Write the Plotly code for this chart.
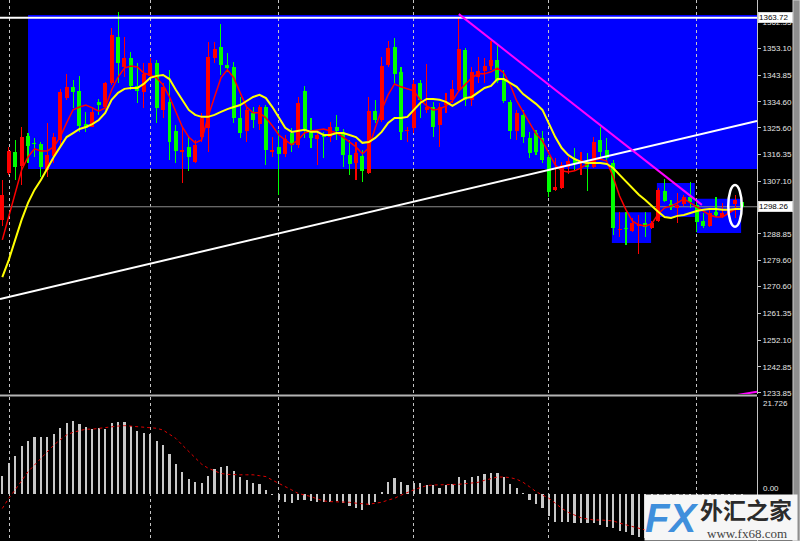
import plotly.graph_objects as go

# ---------------- data ----------------
open_ = [1293.7, 1309.9, 1317.3, 1312.5, 1322.8, 1320.5, 1320.0, 1311.0, 1315.9, 1321.4,
         1335.8, 1339.7, 1338.5, 1326.9, 1326.0, 1334.7, 1332.7, 1341.0, 1357.0, 1346.8,
         1349.7, 1340.1, 1338.1, 1343.6, 1348.2, 1331.8, 1334.7, 1324.6, 1317.3, 1319.1,
         1313.9, 1322.5, 1325.5, 1349.7, 1353.7, 1347.4, 1346.6, 1328.9, 1324.6, 1330.9,
         1326.9, 1332.7, 1317.2, 1318.9, 1316.6, 1323.7, 1319.7, 1338.5, 1324.6, 1321.6,
         1323.5, 1322.5, 1325.8, 1324.3, 1316.2, 1313.3, 1315.9, 1309.9, 1331.6, 1328.3,
         1347.4, 1353.7, 1345.1, 1324.4, 1325.5, 1341.0, 1331.8, 1332.7, 1326.6, 1333.5,
         1335.3, 1338.7, 1352.6, 1335.3, 1343.3, 1345.4, 1347.0, 1349.1, 1342.2, 1334.7,
         1324.6, 1330.1, 1322.0, 1323.7, 1322.0, 1315.4, 1304.1, 1304.7, 1312.1, 1314.7,
         1313.3, 1313.9, 1312.1, 1321.4, 1317.9, 1313.3, 1290.2, 1291.0, 1290.0, 1291.6,
         1292.5, 1290.8, 1293.4, 1303.8, 1299.2, 1297.8, 1299.2, 1301.6, 1298.9, 1293.4,
         1291.6, 1296.6, 1294.6, 1296.0, 1299.2, 1300.0]
high = [1307.5, 1319.1, 1321.4, 1326.0, 1323.8, 1322.1, 1320.8, 1327.4, 1323.7, 1339.0,
        1344.3, 1342.2, 1343.6, 1331.2, 1332.7, 1335.6, 1341.6, 1360.1, 1365.6, 1357.0,
        1352.0, 1348.0, 1348.0, 1349.7, 1349.1, 1341.0, 1345.7, 1326.6, 1326.0, 1322.5,
        1321.4, 1330.6, 1355.5, 1355.5, 1361.6, 1351.4, 1348.5, 1336.2, 1332.4, 1332.9,
        1333.5, 1333.5, 1322.3, 1324.9, 1323.1, 1325.4, 1336.4, 1340.1, 1328.9, 1324.3,
        1324.3, 1327.7, 1330.1, 1325.1, 1321.4, 1320.8, 1317.9, 1336.2, 1335.3, 1350.0,
        1355.8, 1356.6, 1346.8, 1326.0, 1342.2, 1342.2, 1347.7, 1334.7, 1334.1, 1337.6,
        1342.2, 1363.72, 1353.2, 1346.8, 1350.0, 1349.7, 1355.8, 1354.3, 1345.7, 1335.3,
        1331.8, 1331.8, 1324.3, 1324.9, 1324.6, 1316.2, 1315.1, 1313.9, 1315.4, 1318.5,
        1317.4, 1316.8, 1322.5, 1325.8, 1322.0, 1314.5, 1296.6, 1296.6, 1294.3, 1295.4,
        1296.6, 1293.4, 1304.7, 1307.8, 1300.6, 1303.1, 1302.4, 1307.0, 1300.6, 1296.0,
        1297.2, 1301.8, 1299.5, 1299.5, 1302.4, 1300.6]
low = [1291.6, 1309.3, 1307.5, 1305.8, 1313.4, 1315.5, 1308.7, 1308.7, 1313.3, 1319.1,
       1335.3, 1332.4, 1324.3, 1324.3, 1325.8, 1330.1, 1331.8, 1340.5, 1341.0, 1343.3,
       1338.7, 1334.1, 1332.4, 1343.3, 1327.2, 1328.9, 1314.5, 1313.3, 1306.6, 1310.8,
       1313.3, 1320.8, 1317.4, 1348.0, 1343.9, 1345.1, 1327.2, 1322.0, 1320.8, 1325.5,
       1324.9, 1312.7, 1315.6, 1302.4, 1315.6, 1317.4, 1318.5, 1322.0, 1318.5, 1312.7,
       1315.1, 1320.8, 1321.4, 1312.2, 1309.3, 1307.5, 1306.9, 1309.6, 1327.2, 1327.7,
       1346.8, 1341.0, 1321.4, 1320.8, 1323.7, 1328.9, 1330.6, 1322.3, 1319.1, 1330.6,
       1334.1, 1338.1, 1333.2, 1333.2, 1341.0, 1341.0, 1345.7, 1341.0, 1334.1, 1321.6,
       1321.4, 1320.3, 1315.1, 1316.2, 1313.3, 1301.5, 1303.8, 1304.3, 1309.6, 1311.0,
       1309.3, 1303.8, 1311.6, 1315.2, 1313.9, 1288.5, 1287.9, 1285.0, 1289.6, 1281.9,
       1287.9, 1290.5, 1293.1, 1300.0, 1297.2, 1292.7, 1298.5, 1297.7, 1289.6, 1290.8,
       1291.2, 1294.8, 1294.3, 1295.9, 1294.3, 1297.2]
close = [1302.4, 1317.7, 1312.1, 1322.5, 1319.4, 1319.9, 1312.1, 1316.2, 1322.3, 1338.1,
         1339.9, 1338.1, 1326.3, 1325.5, 1331.2, 1333.5, 1341.0, 1357.8, 1348.0, 1349.7,
         1340.1, 1338.5, 1344.3, 1348.0, 1332.4, 1339.7, 1320.8, 1317.7, 1317.9, 1315.4,
         1319.7, 1328.9, 1350.0, 1352.8, 1347.4, 1346.2, 1328.9, 1323.9, 1331.8, 1328.3,
         1332.7, 1317.9, 1317.9, 1316.6, 1321.6, 1319.7, 1334.1, 1324.9, 1322.0, 1323.1,
         1322.5, 1326.0, 1324.6, 1316.2, 1313.1, 1316.8, 1310.8, 1331.6, 1328.3, 1347.0,
         1353.4, 1344.3, 1324.3, 1324.9, 1340.8, 1335.3, 1332.9, 1326.0, 1332.9, 1334.7,
         1339.0, 1352.8, 1335.3, 1345.1, 1345.4, 1347.0, 1349.1, 1341.9, 1335.0, 1324.6,
         1330.6, 1322.5, 1316.8, 1317.3, 1314.5, 1303.5, 1305.0, 1312.7, 1314.2, 1313.5,
         1314.5, 1312.1, 1320.8, 1317.4, 1315.1, 1290.8, 1290.7, 1290.5, 1292.5, 1292.3,
         1291.4, 1292.8, 1304.1, 1300.4, 1298.1, 1298.9, 1301.6, 1300.0, 1293.1, 1291.6,
         1296.0, 1295.4, 1296.0, 1297.1, 1300.6, 1298.26]
ma_fast = [1286.8, 1294.7, 1303.4, 1311.0, 1315.5, 1318.3, 1317.6, 1317.6, 1319.0, 1322.4,
           1327.3, 1331.8, 1332.8, 1333.5, 1332.5, 1331.4, 1332.5, 1338.7, 1343.2, 1346.3,
           1347.0, 1346.7, 1344.6, 1343.9, 1342.9, 1340.5, 1336.3, 1330.8, 1325.9, 1322.4,
           1320.4, 1321.4, 1329.4, 1336.3, 1342.9, 1345.7, 1342.9, 1337.7, 1332.8, 1330.8,
           1330.8, 1329.0, 1326.3, 1323.1, 1321.4, 1319.7, 1321.4, 1323.8, 1324.5, 1324.9,
           1325.2, 1324.5, 1323.8, 1322.4, 1320.7, 1319.0, 1316.6, 1318.6, 1325.6, 1331.8,
           1337.0, 1340.8, 1339.8, 1339.1, 1338.4, 1335.3, 1333.2, 1331.8, 1332.1, 1333.2,
           1334.9, 1338.4, 1340.8, 1342.9, 1344.3, 1344.3, 1345.0, 1346.3, 1344.6, 1340.5,
           1334.9, 1331.1, 1326.9, 1323.5, 1321.1, 1316.9, 1312.7, 1310.7, 1310.3, 1310.7,
           1311.7, 1313.1, 1314.5, 1314.8, 1314.1, 1308.6, 1302.0, 1297.2, 1293.3, 1292.0,
           1291.6, 1292.3, 1295.8, 1297.9, 1298.5, 1299.6, 1301.0, 1299.6, 1298.2, 1296.5,
           1295.4, 1294.7, 1294.7, 1296.1, 1297.5, 1297.5]
ma_slow = [1273.9, 1279.8, 1286.8, 1293.7, 1299.6, 1304.1, 1307.5, 1311.7, 1315.5, 1319.0,
           1322.4, 1323.8, 1325.2, 1325.9, 1326.9, 1328.3, 1330.8, 1335.3, 1337.7, 1339.1,
           1339.4, 1339.4, 1340.8, 1342.9, 1343.6, 1343.9, 1342.5, 1338.7, 1335.3, 1331.8,
           1330.1, 1329.4, 1329.4, 1330.1, 1331.1, 1332.1, 1332.8, 1333.5, 1334.9, 1336.3,
           1337.0, 1335.9, 1332.8, 1329.0, 1325.6, 1324.2, 1324.5, 1324.9, 1324.2, 1324.2,
           1323.1, 1323.1, 1323.8, 1323.8, 1323.1, 1322.4, 1320.4, 1320.7, 1322.1, 1324.2,
           1327.3, 1329.0, 1329.0, 1329.4, 1331.8, 1334.2, 1335.6, 1335.6, 1335.3, 1334.6,
           1333.2, 1334.6, 1335.9, 1336.3, 1338.0, 1339.4, 1340.1, 1342.5, 1342.5, 1341.1,
           1339.8, 1337.3, 1335.6, 1333.9, 1331.8, 1327.3, 1322.4, 1318.6, 1316.2, 1314.8,
           1313.8, 1313.4, 1313.4, 1313.4, 1313.1, 1311.7, 1309.3, 1306.9, 1304.8, 1302.4,
           1300.6, 1298.5, 1296.5, 1294.7, 1294.4, 1295.1, 1295.4, 1296.1, 1296.8, 1297.2,
           1297.5, 1297.5, 1297.2, 1297.2, 1297.5, 1297.5]
macd_hist = [4.1, 7.0, 8.7, 10.9, 12.1, 13.0, 13.0, 13.0, 13.5, 15.0,
             16.1, 16.6, 15.9, 15.2, 14.8, 15.0, 14.8, 16.0, 16.3, 16.3,
             15.4, 14.4, 13.8, 13.6, 12.0, 11.1, 9.1, 6.8, 5.0, 3.5,
             2.7, 2.5, 4.1, 5.6, 6.2, 6.5, 5.3, 3.8, 3.2, 2.5,
             2.3, 1.0, -0.2, -1.3, -1.65, -2.0, -1.3, -1.35, -1.5, -1.65,
             -1.8, -1.8, -1.5, -2.0, -2.6, -3.0, -3.5, -2.4, -1.8, 0.6,
             2.7, 3.6, 2.7, 2.0, 2.5, 2.5, 2.1, 2.0, 1.5, 2.0,
             2.3, 3.8, 3.2, 3.8, 4.2, 4.6, 4.7, 4.9, 4.0, 2.3,
             1.5, 0.2, -1.3, -2.3, -3.2, -5.0, -6.2, -6.2, -6.3, -6.4,
             -6.5, -6.5, -6.4, -6.9, -7.3, -7.6, -8.3, -8.6, -9.2, -9.6,
             -9.9, -10.0, -9.8, -9.5, -9.0, -8.6, -8.2, -7.8, -7.5, -7.3,
             -7.0, -6.6, -6.3, -6.0, -5.6, -5.3]
macd_signal = [-3.2, -0.9, 1.0, 3.2, 5.1, 6.6, 8.1, 9.6, 11.1, 12.3,
               13.4, 14.0, 14.4, 14.7, 14.7, 14.9, 15.1, 15.3, 15.4, 15.5,
               15.4, 15.3, 15.1, 15.0, 14.9, 14.5, 13.6, 12.6, 11.1, 9.6,
               8.1, 6.8, 5.9, 5.3, 4.7, 4.5, 4.4, 4.4, 4.4, 4.4,
               4.2, 4.0, 3.2, 2.5, 1.7, 1.0, 0.2, -0.15, -0.5, -1.05,
               -1.5, -1.65, -1.65, -1.65, -1.8, -2.0, -2.2, -2.26, -2.0, -1.8,
               -1.3, -0.9, -0.2, 0.45, 1.0, 1.5, 1.96, 2.1, 2.1, 2.1,
               2.1, 2.26, 2.4, 2.56, 2.7, 3.16, 3.6, 3.9, 3.9, 3.76,
               3.4, 2.7, 1.7, 0.6, -0.15, -0.9, -2.0, -3.16, -4.06, -4.66,
               -5.3, -5.57, -5.8, -5.8, -5.87, -6.0, -6.5, -6.9, -7.3, -7.7,
               -8.05, -8.3, -8.6, -8.8, -9.0, -9.0, -9.0, -8.9, -8.8, -8.6,
               -8.4, -8.2, -8.0, -7.8, -7.5, -7.3]
price_ticks = [1362.35, 1353.10, 1343.85, 1334.60, 1325.60, 1316.35, 1307.10,
               1288.85, 1279.60, 1270.60, 1261.35, 1252.10, 1242.85, 1233.85]
last_price = 1298.26
peak_price = 1363.72
macd_top_label = "21.726"
macd_zero_label = "0.00"
grid_bars = [1.1, 23.1, 43.0, 63.9, 84.9, 107.9]

# zone rectangle (bar index range, price range)
zone_main = (4.0, 118.0, 1311.3, 1364.7)
zone_boxes = [(94.8, 100.9, 1285.7, 1296.4),
              (101.8, 107.7, 1294.7, 1306.5),
              (108.0, 114.9, 1289.2, 1301.0)]
ellipse = (112.9, 115.0, 1291.3, 1305.8)
trend_up = (-0.36, 1266.3, 117.37, 1328.0)
trend_down = (71.0, 1365.0, 108.8, 1298.9)
trend_small = (113.9, 1232.9, 117.37, 1234.2)

# ---------------- figure ----------------
W, H = 800, 541
X_RIGHT = 757 / W
PRICE_DOM = [1 - 394 / H, 1]
MACD_DOM = [0, 144 / H]
XR = [-0.36, 117.37]
YR = [1233.40, 1369.88]
Y2R = [-10.54, 21.96]

n = len(close)
idx = list(range(n))
up = [i for i in idx if close[i] >= open_[i]]
dn = [i for i in idx if close[i] < open_[i]]
RED = "#ff0000"
GREEN = "#00ff00"

fig = go.Figure()

for ids, col in ((up, RED), (dn, GREEN)):
    fig.add_trace(go.Bar(
        x=ids, base=[low[i] for i in ids], y=[high[i] - low[i] for i in ids],
        width=0.17, marker=dict(color=col, line=dict(width=0)),
        xaxis="x", yaxis="y", hoverinfo="skip"))
    fig.add_trace(go.Bar(
        x=ids, base=[min(open_[i], close[i]) for i in ids],
        y=[max(abs(close[i] - open_[i]), 0.35) for i in ids],
        width=0.62, marker=dict(color=col, line=dict(width=0)),
        xaxis="x", yaxis="y", hoverinfo="skip"))

fig.add_trace(go.Scatter(x=idx, y=ma_fast, mode="lines",
                         line=dict(color="#ff0000", width=1.5),
                         xaxis="x", yaxis="y", hoverinfo="skip"))
fig.add_trace(go.Scatter(x=idx, y=ma_slow, mode="lines",
                         line=dict(color="#ffff00", width=2),
                         xaxis="x", yaxis="y", hoverinfo="skip"))

fig.add_trace(go.Bar(x=idx, y=macd_hist, width=0.34,
                     marker=dict(color="#c8c8c8", line=dict(width=0)),
                     xaxis="x2", yaxis="y2", hoverinfo="skip"))
fig.add_trace(go.Scatter(x=idx, y=macd_signal, mode="lines",
                         line=dict(color="#e00000", width=1, dash="dot"),
                         xaxis="x2", yaxis="y2", hoverinfo="skip"))

shapes = []
shapes.append(dict(type="rect", xref="x", yref="y", x0=zone_main[0], x1=zone_main[1],
                   y0=zone_main[2], y1=zone_main[3], fillcolor="#0000ff",
                   line=dict(width=0), layer="below"))
for b in zone_boxes:
    shapes.append(dict(type="rect", xref="x", yref="y", x0=b[0], x1=b[1], y0=b[2], y1=b[3],
                       fillcolor="#0000ff", line=dict(width=0), layer="below"))
shapes.append(dict(type="line", xref="x", yref="y", x0=XR[0], x1=XR[1],
                   y0=last_price, y1=last_price, line=dict(color="#8a8a8a", width=1),
                   layer="between"))
shapes.append(dict(type="line", xref="x", yref="y", x0=XR[0], x1=XR[1],
                   y0=peak_price, y1=peak_price, line=dict(color="#ffffff", width=2),
                   layer="above"))
shapes.append(dict(type="line", xref="x", yref="y", x0=trend_up[0], y0=trend_up[1],
                   x1=trend_up[2], y1=trend_up[3], line=dict(color="#ffffff", width=2),
                   layer="above"))
shapes.append(dict(type="line", xref="x", yref="y", x0=trend_down[0], y0=trend_down[1],
                   x1=trend_down[2], y1=trend_down[3], line=dict(color="#ff00ff", width=2),
                   layer="above"))
shapes.append(dict(type="line", xref="x", yref="y", x0=trend_small[0], y0=trend_small[1],
                   x1=trend_small[2], y1=trend_small[3], line=dict(color="#ff00ff", width=2),
                   layer="above"))
shapes.append(dict(type="circle", xref="x", yref="y", x0=ellipse[0], x1=ellipse[1],
                   y0=ellipse[2], y1=ellipse[3], line=dict(color="#ffffff", width=2.5),
                   layer="above"))
# pane separator
shapes.append(dict(type="line", xref="paper", yref="paper", x0=0, x1=X_RIGHT,
                   y0=1 - 395.5 / H, y1=1 - 395.5 / H,
                   line=dict(color="#b4b4b4", width=2), layer="above"))
# right window strip
shapes.append(dict(type="rect", xref="paper", yref="paper", x0=793 / W, x1=1, y0=0, y1=1,
                   fillcolor="#8e8e8e", line=dict(color="#d0d0d0", width=1), layer="above"))

ann = []
for val, txt in ((peak_price, "%.2f" % peak_price), (last_price, "%.2f" % last_price)):
    ann.append(dict(xref="paper", yref="y", x=X_RIGHT + 0.001, y=val, text=txt, showarrow=False,
                    xanchor="left", yanchor="middle", bgcolor="#ffffff",
                    bordercolor="#d8d8d8", borderwidth=1, borderpad=0, width=33, align="left",
                    font=dict(family="Liberation Sans", size=8, color="#000000")))
ann.append(dict(xref="paper", yref="paper", x=761 / W, y=1 - 403 / H, text=macd_top_label,
                showarrow=False, xanchor="left", yanchor="middle",
                font=dict(family="Liberation Sans", size=8, color="#e6e6e6")))
ann.append(dict(xref="paper", yref="paper", x=761 / W, y=1 - 495 / H, text=macd_zero_label,
                showarrow=False, xanchor="left", yanchor="bottom",
                font=dict(family="Liberation Sans", size=8, color="#e6e6e6")))
# watermark logo box + texts
ann.append(dict(xref="paper", yref="paper", x=644 / W, y=0, text=" ", showarrow=False,
                xanchor="left", yanchor="bottom", width=152, height=45, bgcolor="#f6f6f6",
                borderpad=0, font=dict(size=8)))
ann.append(dict(xref="paper", yref="paper", x=671 / W, y=1 - 518 / H, text="<b><i>FX</i></b>",
                showarrow=False, xanchor="center", yanchor="middle",
                font=dict(family="Liberation Sans", size=40, color="#3f8fdc")))
ann.append(dict(xref="paper", yref="paper", x=746 / W, y=1 - 509 / H, text="<b>外汇之家</b>",
                showarrow=False, xanchor="center", yanchor="middle",
                font=dict(family="Noto Sans CJK SC", size=23, color="#2b2b2b")))
ann.append(dict(xref="paper", yref="paper", x=747 / W, y=1 - 533 / H, text="www.fx68.com",
                showarrow=False, xanchor="center", yanchor="middle",
                font=dict(family="Liberation Serif", size=13, color="#444444")))

xcommon = dict(range=XR, domain=[0, X_RIGHT], tickvals=grid_bars, showticklabels=False,
               showgrid=True, gridcolor="#c4c4c4", griddash="3px,3px", gridwidth=1,
               zeroline=False, showline=False, ticks="", fixedrange=True)

fig.update_layout(
    width=W, height=H, autosize=False,
    margin=dict(l=0, r=0, t=0, b=0, pad=0),
    paper_bgcolor="#000000", plot_bgcolor="#000000",
    showlegend=False, barmode="overlay", bargap=0, hovermode=False,
    xaxis=dict(anchor="y", **xcommon),
    xaxis2=dict(anchor="y2", **xcommon),
    yaxis=dict(domain=PRICE_DOM, range=YR, side="right", anchor="x",
               tickvals=price_ticks, ticktext=["%.2f" % v for v in price_ticks],
               showgrid=False, zeroline=False, showline=True, linecolor="#c4c4c4",
               linewidth=1, ticks="outside", ticklen=3, tickcolor="#c4c4c4",
               tickfont=dict(family="Liberation Sans", size=8, color="#e6e6e6"),
               automargin=False, fixedrange=True),
    yaxis2=dict(domain=MACD_DOM, range=Y2R, side="right", anchor="x2",
                showticklabels=False, showgrid=False, zeroline=False, showline=True,
                linecolor="#c4c4c4", linewidth=1, ticks="", automargin=False,
                fixedrange=True),
    shapes=shapes, annotations=ann,
)

fig.write_html("out.html", config={"displayModeBar": False, "staticPlot": True},
               post_script="document.body.style.margin='0';document.body.style.background='#000';")
